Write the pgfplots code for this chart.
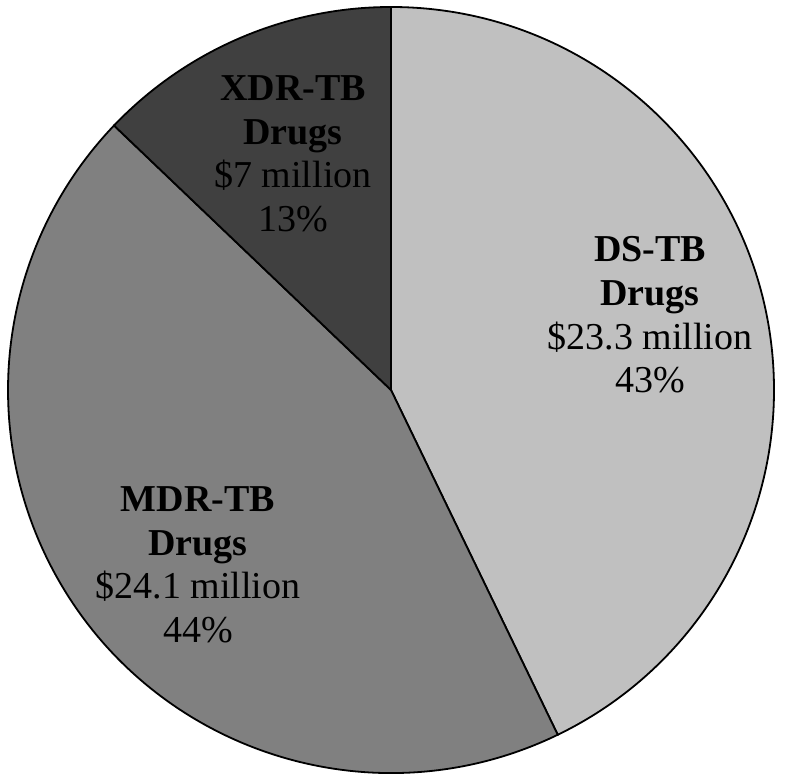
\documentclass[border=0pt]{standalone}
\usepackage{pgfplots}
\pgfplotsset{compat=1.18}
\usepackage{pgfplotstable}
\usepackage{fontspec}
\setmainfont{Liberation Serif}

\definecolor{dsgray}{HTML}{C0C0C0}
\definecolor{mdrgray}{HTML}{808080}
\definecolor{xdrgray}{HTML}{404040}

% drug spending, million US$
\pgfplotstableread{
name value
DS 23.3
MDR 24.1
XDR 7
}\costs

\begin{document}
\begin{tikzpicture}
\pgfplotstablegetelem{0}{value}\of\costs \let\vDS\pgfplotsretval
\pgfplotstablegetelem{1}{value}\of\costs \let\vMDR\pgfplotsretval
\pgfplotstablegetelem{2}{value}\of\costs \let\vXDR\pgfplotsretval
\pgfmathsetmacro{\total}{\vDS+\vMDR+\vXDR}
\pgfmathsetmacro{\aA}{90-360*\vDS/\total}
\pgfmathsetmacro{\aB}{\aA-360*\vMDR/\total}
\def\cx{391}\def\cy{391}\def\r{383}
\begin{axis}[
    hide axis, scale only axis,
    width=392.5bp, height=390.5bp,
    xmin=0, xmax=785, ymin=0, ymax=781,
    clip=false,
]
\filldraw[fill=dsgray, draw=black, line width=0.9bp]
  (axis cs:\cx,\cy) -- (axis cs:\cx,{\cy+\r}) arc[start angle=90, end angle=\aA, radius=\r] -- cycle;
\filldraw[fill=mdrgray, draw=black, line width=0.9bp]
  (axis cs:\cx,\cy) -- (axis cs:{\cx+\r*cos(\aA)},{\cy+\r*sin(\aA)}) arc[start angle=\aA, end angle=\aB, radius=\r] -- cycle;
\filldraw[fill=xdrgray, draw=black, line width=0.9bp]
  (axis cs:\cx,\cy) -- (axis cs:{\cx+\r*cos(\aB)},{\cy+\r*sin(\aB)}) arc[start angle=\aB, end angle=-270, radius=\r] -- cycle;

\tikzset{lbl/.style={align=center, inner sep=0pt, text=black,
  font=\fontsize{19bp}{21.8bp}\selectfont}}
\node[lbl] at (axis cs:650,466) {\textbf{DS-TB}\\\textbf{Drugs}\\\$23.3 million\\43\%};
\node[lbl] at (axis cs:198,216) {\textbf{MDR-TB}\\\textbf{Drugs}\\\$24.1 million\\44\%};
\node[lbl] at (axis cs:293,627) {\textbf{XDR-TB}\\\textbf{Drugs}\\\$7 million\\13\%};
\end{axis}
\pgfresetboundingbox
\path (current axis.south west) rectangle (current axis.north east);
\end{tikzpicture}
\end{document}
